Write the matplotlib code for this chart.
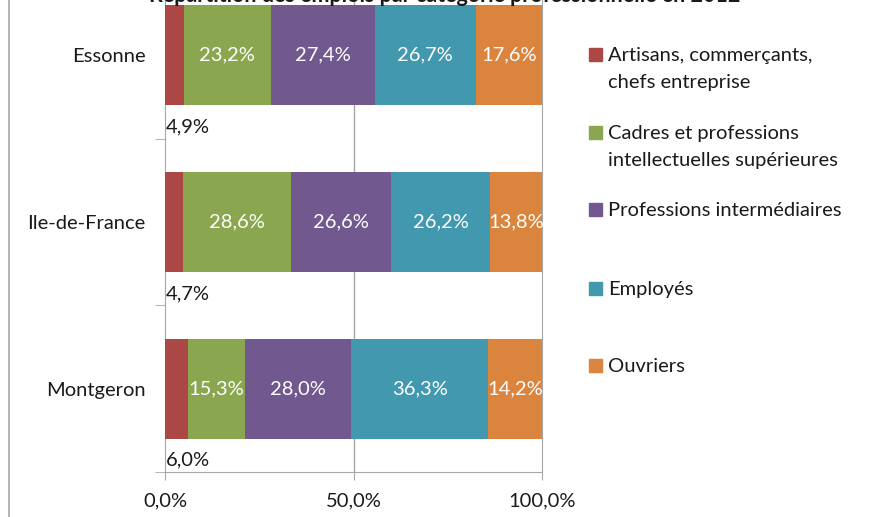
import numpy as np
import matplotlib.pyplot as plt
from matplotlib.patches import Rectangle
from matplotlib.lines import Line2D

plt.rcParams['font.family'] = ['Lato', 'DejaVu Sans']

# data
zones = ['Essonne', 'Ile-de-France', 'Montgeron']
categories = ['Artisans, commerçants,\nchefs entreprise',
              'Cadres et professions\nintellectuelles supérieures',
              'Professions intermédiaires',
              'Employés',
              'Ouvriers']
artisans = [4.9, 4.7, 6.0]
cadres = [23.2, 28.6, 15.3]
intermediaires = [27.4, 26.6, 28.0]
employes = [26.7, 26.2, 36.3]
ouvriers = [17.6, 13.8, 14.2]
series = [artisans, cadres, intermediaires, employes, ouvriers]
colors = ['#AB4744', '#8AA64E', '#71588F', '#4198AF', '#DB843D']
xticks = [0, 50, 100]
xticklabels = ['0,0%', '50,0%', '100,0%']

W, H = 871, 517
FS = 14.5
TXT = '#1a1a1a'
GRAY = '#A6A6A6'
fig = plt.figure(figsize=(W / 100, H / 100), dpi=100)
ax = fig.add_axes([165 / W, 1 - 472 / H, (542 - 165) / W, (472 + 28) / H])

vals = np.array(series, dtype=float)
shares = vals / vals.sum(axis=0) * 100  # 100% stacked
y = np.arange(len(zones))
left = np.zeros(len(zones))
for i, (s, c) in enumerate(zip(shares, colors)):
    ax.barh(y, s, left=left, height=0.6, color=c, zorder=3)
    for j in range(len(zones)):
        txt = f'{vals[i][j]:.1f}%'.replace('.', ',')
        if i == 0:
            ax.text(0.2, y[j] + 0.43, txt, ha='left', va='center',
                    fontsize=FS, color=TXT, zorder=4)
        else:
            ax.text(left[j] + s[j] / 2, y[j], txt, ha='center', va='center',
                    fontsize=FS, color='white', zorder=4)
    left += s

ax.set_xlim(0, 100)
ax.set_ylim(2.5, -0.5)
ax.set_xticks(xticks)
ax.set_xticklabels(xticklabels, fontsize=FS, color=TXT)
ax.set_yticks(y)
ax.set_yticklabels(zones, fontsize=FS, color=TXT)
ax.set_yticks([-0.5, 0.5, 1.5, 2.5], minor=True)
ax.tick_params(axis='y', which='major', length=0, pad=14)
ax.tick_params(axis='y', which='minor', length=7, color=GRAY)
ax.tick_params(axis='x', length=6, color=GRAY, pad=9)
ax.spines['top'].set_visible(False)
for sp in ['right', 'left', 'bottom']:
    ax.spines[sp].set_color(GRAY)
ax.axvline(50, color=GRAY, lw=1, zorder=1)

# chart frame line on the left
fig.add_artist(Line2D([9 / W, 9 / W], [0, 1], color=GRAY, lw=1.2))

# cut-off title
fig.text(445 / W, 1 - 2 / H, 'Répartition des emplois par catégorie professionnelle en 2012',
         ha='center', va='baseline', fontsize=15.5, fontweight='bold', color=TXT)

# legend drawn Excel-style
legend_y = [55, 133, 210, 289, 366]
for lab, c, ly in zip(categories, colors, legend_y):
    fig.add_artist(Rectangle((589 / W, 1 - (ly + 6) / H), 13 / W, 13 / H,
                             color=c, transform=fig.transFigure))
    for k, line in enumerate(lab.split('\n')):
        fig.text(608 / W, 1 - (ly + 6 + 27 * k) / H, line, ha='left', va='baseline',
                 fontsize=FS, color=TXT, transform=fig.transFigure)

fig.savefig('out.png', dpi=100)
